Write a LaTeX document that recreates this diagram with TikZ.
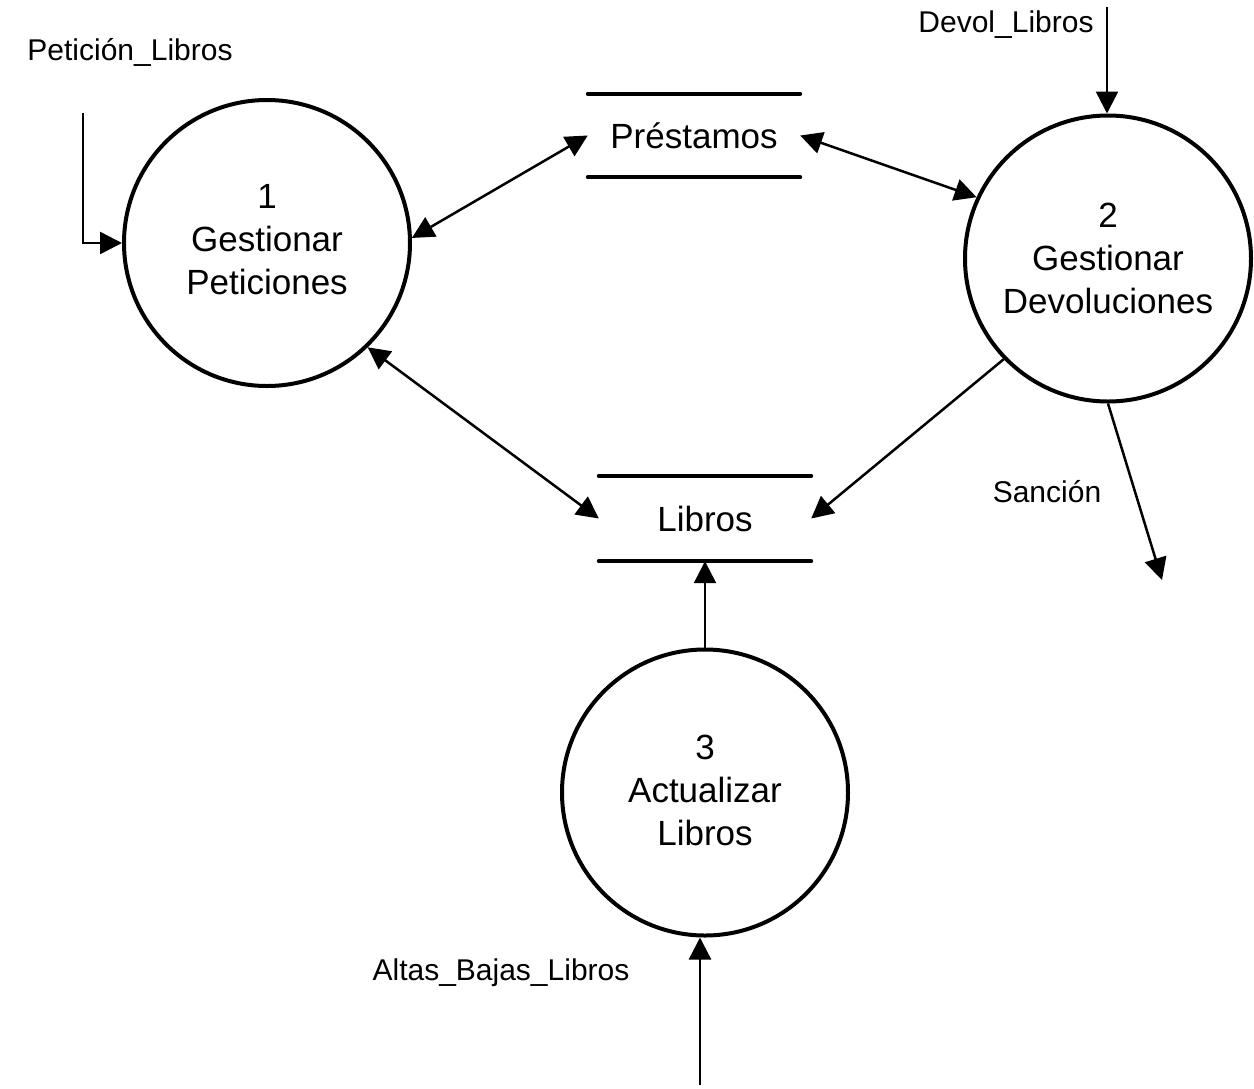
\documentclass[tikz,border=0pt]{standalone}
\usepackage{fontspec}
\setmainfont{Liberation Sans}
\usetikzlibrary{arrows.meta}
\begin{document}
\begin{tikzpicture}[x=1pt,y=-1pt,
  proc/.style={circle, draw, line width=4pt, minimum size=286pt, inner sep=0pt},
  ptext/.style={align=center, inner sep=0pt, font=\fontsize{35}{43}\selectfont},
  storebox/.style={minimum width=212pt, minimum height=83pt, inner sep=0pt, font=\fontsize{35}{42}\selectfont},
  storeline/.style={line width=4pt, line cap=round},
  tip/.tip={Triangle[length=22pt,width=22pt]},
  flow/.style={line width=2.5pt, -tip},
  bflow/.style={line width=2.5pt, tip-tip},
  lbl/.style={inner sep=0pt, font=\fontsize{30}{36}\selectfont}]
\useasboundingbox (0,0) rectangle (1254,1088);

% processes
\node[proc] (c1) at (267,243) {};
\node[proc] (c2) at (1108,258.5) {};
\node[proc] (c3) at (705,792.5) {};
\node[ptext] (t1) at (267,240) {1\\Gestionar\\Peticiones};
\node[ptext] (t2) at (1108,258) {2\\Gestionar\\Devoluciones};
\node[ptext] (t3) at (705,790) {3\\Actualizar\\Libros};

% data stores
\node[storebox] (prest) at (694,135.5) {Préstamos};
\draw[storeline] (prest.north west) -- (prest.north east);
\draw[storeline] (prest.south west) -- (prest.south east);
\node[storebox, minimum height=85pt] (libros) at (705,518.5) {Libros};
\draw[storeline] (libros.north west) -- (libros.north east);
\draw[storeline] (libros.south west) -- (libros.south east);

% external endpoints
\coordinate (pet) at (83,113);
\coordinate (dev) at (1107,7);
\coordinate (san) at (1162,580);
\coordinate (alt) at (700,1085);

% labels
\node[lbl] (lpet) at (130,52) {Petición\_Libros};
\node[lbl] (ldev) at (1006,25) {Devol\_Libros};
\node[lbl] (lsan) at (1047,492) {Sanción};
\node[lbl] (lalt) at (501,973) {Altas\_Bajas\_Libros};

% flows
\draw[flow] (pet) |- (c1.west);
\draw[bflow] (c1.2) -- (prest.west);
\draw[bflow] (prest.east) -- (c2.155);
\draw[bflow] (c1.-46) -- (libros.west);
\draw[flow] (c2.-136) -- (libros.east);
\draw[flow] (c2.south) -- (san);
\draw[flow] (dev) -- (dev |- c2.north);
\draw[flow] (c3.north) -- (libros.south);
\draw[flow] (alt) -- (alt |- c3.south);
\end{tikzpicture}
\end{document}
